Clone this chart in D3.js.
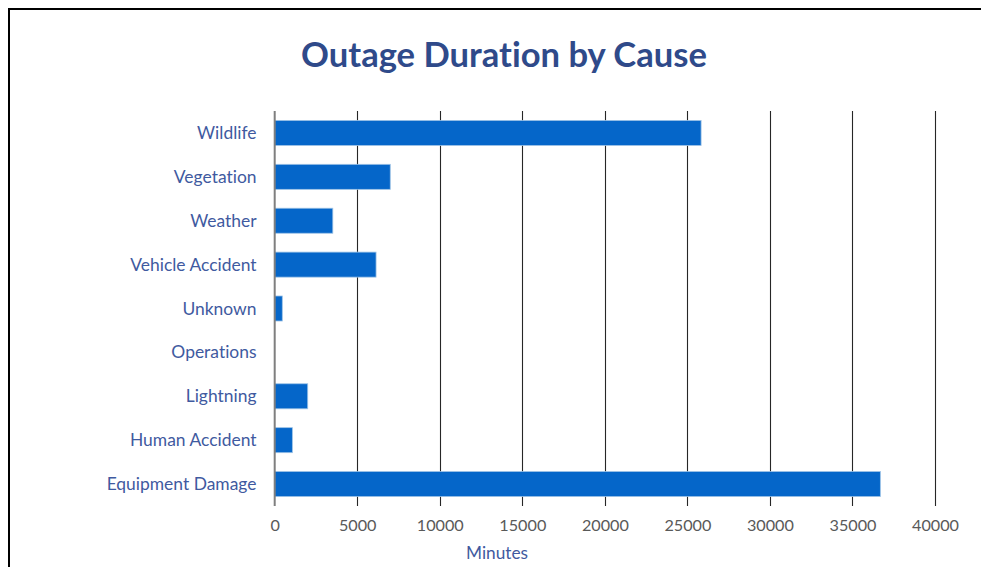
<!DOCTYPE html>
<html>
<head>
<meta charset="utf-8">
<script src="https://cdn.jsdelivr.net/npm/d3@7"></script>
<style>
  html, body { margin: 0; padding: 0; background: #fff; }
  svg { display: block; }
  text { font-variant-ligatures: none; font-feature-settings: "liga" 0, "clig" 0; }
</style>
</head>
<body>
<svg id="chart" width="981" height="567"></svg>
<script>
const categories = ["Wildlife", "Vegetation", "Weather", "Vehicle Accident", "Unknown", "Operations", "Lightning", "Human Accident", "Equipment Damage"];
const minutes = [25830, 7000, 3520, 6140, 460, 0, 2000, 1070, 36690];
const xTicks = [0, 5000, 10000, 15000, 20000, 25000, 30000, 35000, 40000];
const titleText = "Outage Duration by Cause";
const xTitle = "Minutes";

const data = categories.map((c, i) => ({ cause: c, value: minutes[i] }));

const svg = d3.select("#chart");
const FONT = "Lato, 'Open Sans', sans-serif";

// frame
svg.append("line").attr("x1", 9).attr("x2", 9).attr("y1", 9).attr("y2", 567)
  .attr("stroke", "#000").attr("stroke-width", 2);
svg.append("line").attr("x1", 8).attr("x2", 981).attr("y1", 9).attr("y2", 9)
  .attr("stroke", "#000").attr("stroke-width", 2);

const x = d3.scaleLinear().domain([0, 40000]).range([274.7, 935]);
const y = d3.scaleBand().domain(categories).range([111, 506]).paddingInner(0.43).paddingOuter(0.215);

function fit(sel, target) {
  const node = sel.node();
  const fs = parseFloat(sel.attr("font-size"));
  const w = node.getComputedTextLength();
  if (w > 0) sel.attr("font-size", (fs * target / w).toFixed(2));
}

// gridlines
svg.append("g")
  .selectAll("line").data(xTicks.slice(1)).join("line")
  .attr("x1", d => Math.round(x(d)) + 0.5).attr("x2", d => Math.round(x(d)) + 0.5)
  .attr("y1", 111).attr("y2", 506)
  .attr("stroke", "#262626").attr("stroke-width", 1.1);

// bars
svg.append("g")
  .selectAll("rect").data(data.filter(d => d.value > 0)).join("rect")
  .attr("x", x(0))
  .attr("y", d => y(d.cause))
  .attr("width", d => x(d.value) - x(0))
  .attr("height", y.bandwidth())
  .attr("fill", "#0566C9")
  .attr("stroke", "#9DC3E6")
  .attr("stroke-width", 0.8);

// y axis line
svg.append("line").attr("x1", x(0)).attr("x2", x(0)).attr("y1", 111).attr("y2", 506)
  .attr("stroke", "#7F7F7F").attr("stroke-width", 2);

// x axis tick labels via d3 axis
const xAxis = d3.axisBottom(x).tickValues(xTicks).tickFormat(d3.format("d")).tickSize(0).tickPadding(0);
const gx = svg.append("g").attr("transform", "translate(0,518)").call(xAxis);
gx.select(".domain").remove();
gx.selectAll("text").attr("font-family", FONT).attr("font-size", 16).attr("fill", "#595959").attr("dy", "0.8em");

// y axis labels via d3 axis
const yAxis = d3.axisLeft(y).tickSize(0).tickPadding(0);
const gy = svg.append("g").attr("transform", "translate(256.5,0)").call(yAxis);
gy.select(".domain").remove();
gy.selectAll("text").attr("font-family", FONT).attr("font-size", 16).attr("fill", "#3F5AA0").attr("dy", "0.35em");

// title
const title = svg.append("text").attr("x", 504).attr("y", 67).attr("text-anchor", "middle")
  .attr("font-family", FONT).attr("font-weight", "bold").attr("font-size", 32)
  .attr("fill", "#2F4A8A").text(titleText);
fit(title, 406);

// x title
const xt = svg.append("text").attr("x", 497).attr("y", 559).attr("text-anchor", "middle")
  .attr("font-family", FONT).attr("font-size", 16).attr("fill", "#3F5AA0").text(xTitle);
fit(xt, 62);

// fit axis label font sizes to reference widths
const eq = gy.selectAll("text").filter(d => d === "Equipment Damage");
const w0 = eq.node().getComputedTextLength();
const fsY = (16 * 150 / w0).toFixed(2);
gy.selectAll("text").attr("font-size", fsY);
const t4 = gx.selectAll("text").filter(d => d === 40000);
const w1 = t4.node().getComputedTextLength();
const fsX = (16 * 47 / w1).toFixed(2);
gx.selectAll("text").attr("font-size", fsX);
</script>
</body>
</html>
